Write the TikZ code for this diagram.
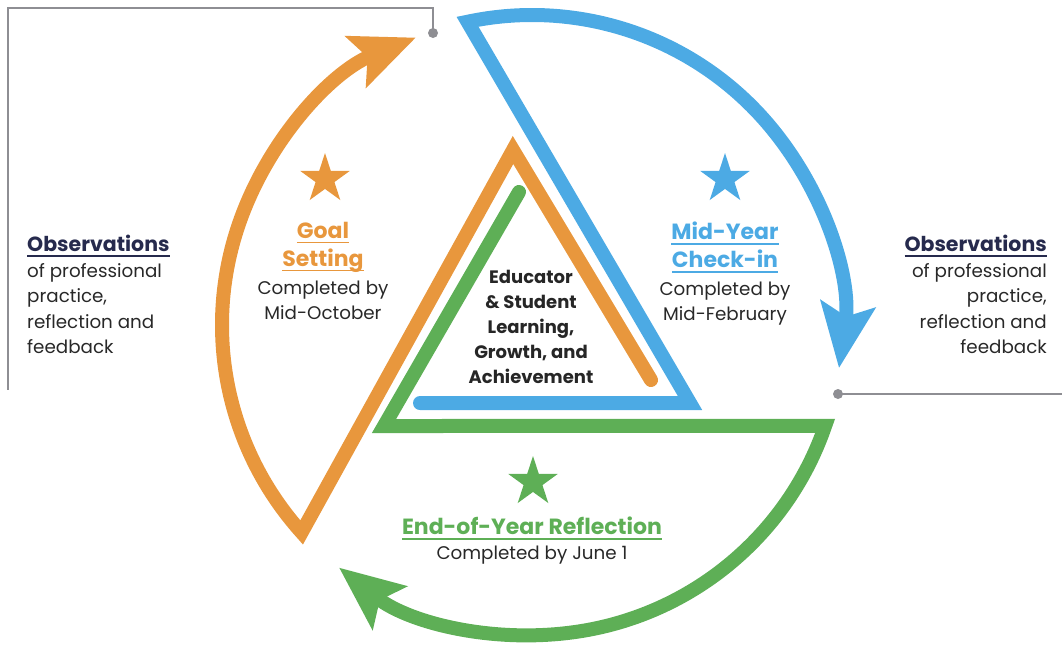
\documentclass[tikz,border=0pt]{standalone}
\usepackage{fontspec}
\setmainfont{Poppins}
\usepackage{xcolor}
\usetikzlibrary{arrows.meta,shapes.geometric,positioning}

\definecolor{goalorange}{RGB}{232,151,61}
\definecolor{checkblue}{RGB}{76,170,228}
\definecolor{reflectgreen}{RGB}{94,175,86}
\definecolor{obsnavy}{RGB}{38,42,77}
\definecolor{bodygray}{RGB}{40,40,40}
\definecolor{linkgray}{RGB}{142,142,147}

\newcommand{\headfont}{\fontsize{22}{28}\selectfont\bfseries}
\newcommand{\obsfont}{\fontsize{20.5}{25.5}\selectfont\bfseries}
\newcommand{\ulined}[1]{\setbox0\hbox{#1}\rlap{\vrule width\wd0 height-3.2pt depth5pt}\box0}
\newcommand{\stagehead}[2]{{\headfont\color{#1}\ulined{#2}}}
\newcommand{\obshead}{{\obsfont\color{obsnavy}\ulined{Observations}}}

\begin{document}
\begin{tikzpicture}
[x=1pt,y=-1pt,
 ring/.style={line width=14pt,line cap=round,line join=miter,
   -{Stealth[length=64pt,width=54pt,inset=12pt]}},
 stagestar/.style={star,star points=5,star point ratio=2.618,
   minimum size=52pt,inner sep=0pt,draw=none,fill=#1},
 stagetext/.style={inner sep=0pt,align=center,text=bodygray,
   font=\fontsize{18.3}{25}\selectfont},
 obstext/.style={inner sep=0pt,text=bodygray,
   font=\fontsize{18.3}{25.5}\selectfont},
 link/.style={draw=linkgray,line width=2pt},
 linkdot/.style={circle,fill=linkgray,inner sep=0pt,minimum size=10pt}]
\useasboundingbox (0,0) rectangle (1062,646);

% hub of the cycle and the corners of the three rings
\coordinate (hub) at (532,325);
\path (hub) ++(138:310) coordinate (goalcorner)
      (hub) ++(258:310) coordinate (checkcorner)
      (hub) ++(19:310) coordinate (reflectcorner);
\coordinate (goaltop) at (513,150);
\coordinate (goalend) at (651,380);
\coordinate (checkbend) at (690,403);
\coordinate (checkend) at (420,403);
\coordinate (reflectend) at (519,192);
\coordinate (reflectbend) at (384,426);

\draw[ring,goalorange] (goalend) -- (goaltop) -- (goalcorner)
  arc[start angle=138,end angle=248,radius=310];
\draw[ring,checkblue] (checkend) -- (checkbend) -- (checkcorner)
  arc[start angle=258,end angle=368,radius=310];
\draw[ring,reflectgreen] (reflectend) -- (reflectbend) -- (reflectcorner)
  arc[start angle=19,end angle=128.5,radius=310];

% stages
\node[stagestar=goalorange] (goalstar) at (325,179) {};
\node[stagestar=checkblue] (checkstar) at (725,179) {};
\node[stagestar=reflectgreen] (reflectstar) at (533,482) {};

\node[stagetext,anchor=north] (goal) at (323,222)
  {\stagehead{goalorange}{Goal}\\[3pt]\stagehead{goalorange}{Setting}\\[3pt]Completed by\\Mid-October};
\node[stagetext,anchor=north] (check) at (725,222)
  {\stagehead{checkblue}{Mid-Year}\\[3pt]\stagehead{checkblue}{Check-in}\\[3pt]Completed by\\Mid-February};
\node[stagetext,anchor=north] (reflect) at (532,517)
  {\stagehead{reflectgreen}{End-of-Year Reflection}\\Completed by June 1};
\node[stagetext,anchor=north,text=black!85,font=\fontsize{18}{25}\selectfont\bfseries] (core) at (531,270)
  {Educator\\\& Student\\Learning,\\Growth, and\\Achievement};

% observations
\node[obstext,anchor=north west,align=left] (obsleft) at (27,235)
  {\obshead\\of professional\\practice,\\reflection and\\feedback};
\node[obstext,anchor=north east,align=right] (obsright) at (1047,235)
  {\obshead\\of professional\\practice,\\reflection and\\feedback};

\node[linkdot] (topdot) at (433,33) {};
\node[linkdot] (rightdot) at (838,394) {};
\coordinate (topleft) at (8,8);
\coordinate (leftend) at (8,390);
\coordinate (rightend) at (1062,394);
\draw[link] (topdot.center) |- (topleft) -- (leftend);
\draw[link] (rightdot.center) -- (rightend);
\end{tikzpicture}
\end{document}
